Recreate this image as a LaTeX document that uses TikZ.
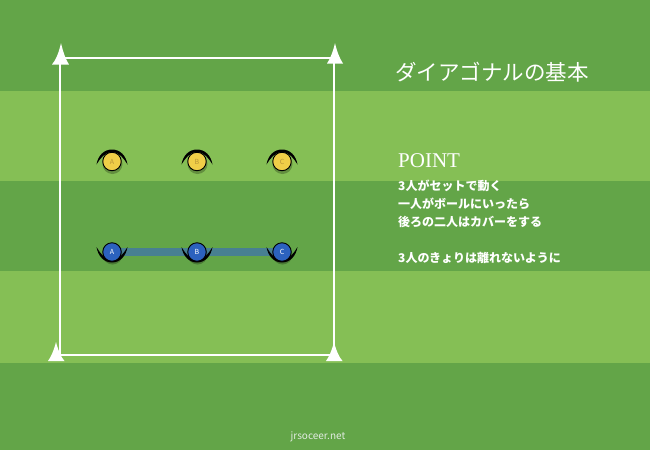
\documentclass[tikz,border=0pt]{standalone}
\usepackage{fontspec}
\newfontfamily\jp{Noto Sans CJK JP}
\newfontfamily\pserif{Liberation Serif}
\pgfdeclarelayer{bg}
\pgfsetlayers{bg,main}
\definecolor{darkg}{RGB}{99,165,72}
\definecolor{lightg}{RGB}{133,191,85}
\definecolor{ycol}{RGB}{240,206,72}
\definecolor{yletter}{RGB}{185,150,55}
\definecolor{bcol}{RGB}{44,98,190}
\definecolor{barcol}{RGB}{72,128,145}
\tikzset{
  pline/.style={white, line width=2pt},
  cone/.style={fill=white},
  crescent/.style={fill=black},
  pdisc/.style={circle, draw=black, line width=0.9pt, minimum size=18.5pt, inner sep=0pt, font=\jp\fontsize{7}{7}\selectfont},
  yplayer/.pic={
    \fill[black, opacity=0.25] (0.5,2.5) circle (10);
    \fill[crescent] (-15.5,3) .. controls (-14,-6) and (-8,-12) .. (0,-12)
       .. controls (8,-12) and (14,-6) .. (15.5,3)
       .. controls (12,-3) and (7,-9.5) .. (0,-9.5)
       .. controls (-7,-9.5) and (-12,-3) .. (-15.5,3) -- cycle;
    \node[pdisc, fill=ycol, text=yletter] (-c) at (0,0) {#1};
  },
  bplayer/.pic={
    \fill[black, opacity=0.25] (0.5,2.5) circle (10);
    \fill[crescent] (-15.5,-5) .. controls (-14,4) and (-8,10.5) .. (0,10.5)
       .. controls (8,10.5) and (14,4) .. (15.5,-5)
       .. controls (12,1) and (7,8) .. (0,8)
       .. controls (-7,8) and (-12,1) .. (-15.5,-5) -- cycle;
    \node[pdisc, fill=bcol, text=white] (-c) at (0,0) {#1};
  },
  txt/.style={text=white, anchor=west, inner sep=0pt, font=\jp\bfseries\fontsize{12}{12}\selectfont}
}
\begin{document}
\begin{tikzpicture}[x=1pt, y=-1pt]
\begin{pgfonlayer}{bg}
\fill[darkg] (0,0) rectangle (650,450);
\fill[lightg] (0,91) rectangle (650,181);
\fill[lightg] (0,271) rectangle (650,363);
\end{pgfonlayer}
\useasboundingbox (0,0) rectangle (650,450);

% pitch corners
\coordinate (tl) at (60,58);
\coordinate (tr) at (334,58);
\coordinate (bl) at (60,355);
\coordinate (br) at (334,355);
\draw[pline] (tl) -- (tr) -- (br) -- (bl) -- cycle;

% cones
\fill[cone] (61,43) .. controls (59,52) and (56,60) .. (52,64.5) -- (69,64.5) .. controls (66,60) and (63,52) .. (61,43) -- cycle;
\fill[cone] (335,43) .. controls (333,52) and (330,59) .. (327,63.5) -- (343,63.5) .. controls (340,59) and (337,52) .. (335,43) -- cycle;
\fill[cone] (56,342) .. controls (54,350) and (51,357) .. (48,361) -- (64.5,361) .. controls (61,357) and (58,350) .. (56,342) -- cycle;
\fill[cone] (334,342) .. controls (332,350) and (329,357) .. (326,361) -- (342.5,361) .. controls (339,357) and (336,350) .. (334,342) -- cycle;

% players
\pic (yA) at (112,161.5) {yplayer=A};
\pic (yB) at (197,161.5) {yplayer=B};
\pic (yC) at (282,161.5) {yplayer=C};
\pic (bA) at (112,252) {bplayer=A};
\pic (bB) at (197,252) {bplayer=B};
\pic (bC) at (282,252) {bplayer=C};
\begin{pgfonlayer}{bg}
\draw[barcol, line width=7.5pt] (bA-c.center) -- (bB-c.center) -- (bC-c.center);
\end{pgfonlayer}

% texts
\node[txt, font=\jp\fontsize{21.5}{21.5}\selectfont] (title) at (395,72) {ダイアゴナルの基本};
\node[text=white, anchor=base west, inner sep=0pt, font=\pserif\fontsize{21}{21}\selectfont] (point) at (398,167) {POINT};
\node[txt] (l1) at (398,186) {3人がセットで動く};
\node[txt] (l2) at (398,203.5) {一人がボールにいったら};
\node[txt] (l3) at (398,221.5) {後ろの二人はカバーをする};
\node[txt] (l4) at (398,257.5) {3人のきょりは離れないように};
\node[text={rgb,255:red,225;green,235;blue,225}, inner sep=0pt, font=\jp\fontsize{10}{10}\selectfont] (site) at (318,437) {jrsoceer.net};
\end{tikzpicture}
\end{document}
